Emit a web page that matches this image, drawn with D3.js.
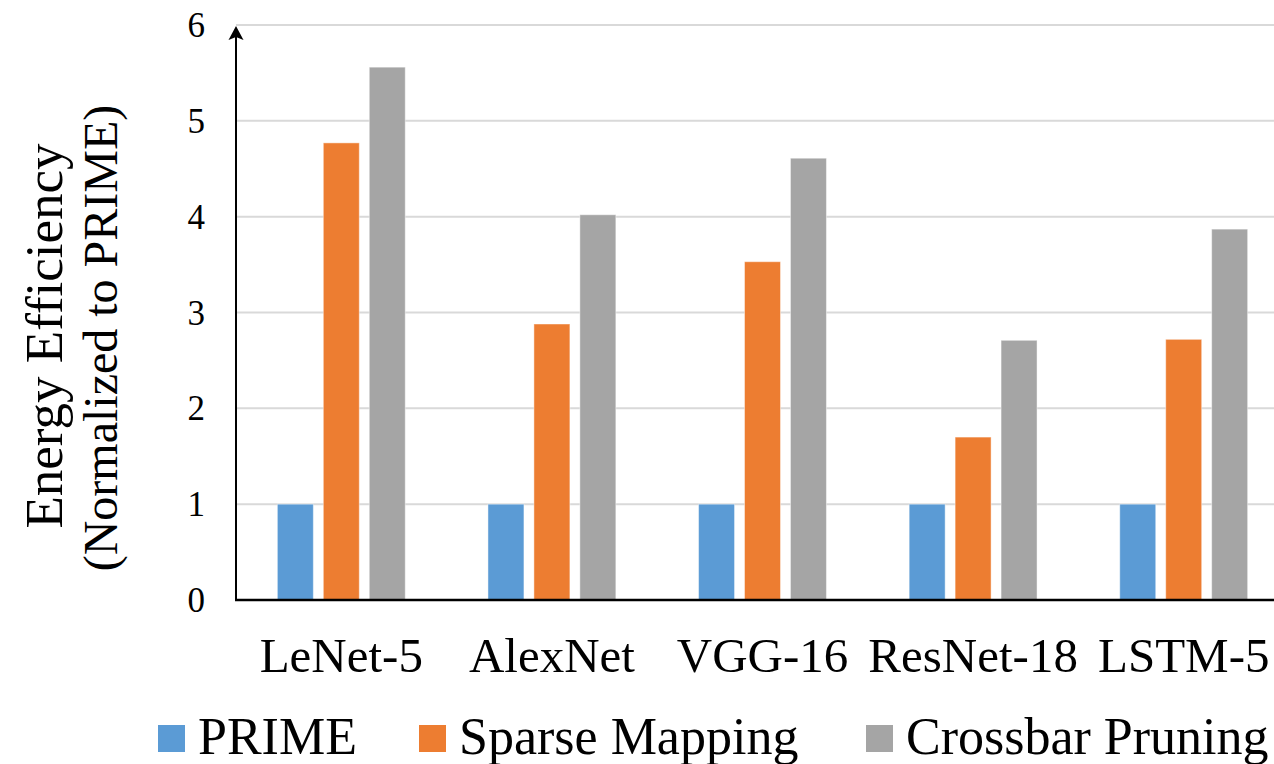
<!DOCTYPE html>
<html>
<head>
<meta charset="utf-8">
<script src="https://cdn.jsdelivr.net/npm/d3@7/dist/d3.min.js"></script>
<style>
  html, body { margin: 0; padding: 0; background: #fff; overflow: hidden; }
  svg { display: block; font-family: "Liberation Serif", "Times New Roman", serif; }
</style>
</head>
<body>
<svg id="chart" width="1274" height="764"></svg>
<script>
// Networks on the x axis
const categories = ["LeNet-5", "AlexNet", "VGG-16", "ResNet-18", "LSTM-5"];
// Series names and values (energy efficiency normalized to PRIME)
const seriesNames = ["PRIME", "Sparse Mapping", "Crossbar Pruning"];
const primeValues = [1, 1, 1, 1, 1];
const sparseValues = [4.77, 2.88, 3.53, 1.70, 2.72];
const pruningValues = [5.56, 4.02, 4.61, 2.71, 3.87];
const yTicks = [0, 1, 2, 3, 4, 5, 6];

const colors = ["#5B9BD5", "#ED7D31", "#A5A5A5"];
const seriesValues = [primeValues, sparseValues, pruningValues];
const FONT = "Liberation Serif, Times New Roman, serif";

const svg = d3.select("#chart");
const plotLeft = 236, plotBottom = 600, plotTop = 25, plotRight = 1289;

const x = d3.scaleBand().domain(categories).range([plotLeft, plotRight]);
const x1 = d3.scaleBand().domain(seriesNames).range([0, x.bandwidth()])
  .paddingInner(0.217).paddingOuter(0.9);
const y = d3.scaleLinear().domain([0, 6]).range([plotBottom, plotTop]);

// Horizontal gridlines
svg.append("g").selectAll("line").data(yTicks.filter(d => d > 0)).join("line")
  .attr("x1", plotLeft).attr("x2", 1274)
  .attr("y1", d => y(d)).attr("y2", d => y(d))
  .attr("stroke", "#d9d9d9").attr("stroke-width", 2);

// Bars
const groups = svg.append("g").selectAll("g").data(categories).join("g")
  .attr("transform", d => `translate(${x(d)},0)`);
groups.selectAll("rect")
  .data((c, i) => seriesNames.map((s, j) => ({ s, v: seriesValues[j][i], j })))
  .join("rect")
  .attr("x", d => x1(d.s))
  .attr("width", x1.bandwidth())
  .attr("y", d => y(d.v))
  .attr("height", d => y(0) - y(d.v))
  .attr("fill", d => colors[d.j])
  .attr("stroke", "#ffffff").attr("stroke-opacity", 0.45).attr("stroke-width", 1);

// Y axis line with arrowhead
svg.append("line").attr("x1", plotLeft).attr("x2", plotLeft)
  .attr("y1", plotBottom).attr("y2", plotTop + 10)
  .attr("stroke", "#000").attr("stroke-width", 2);
svg.append("path")
  .attr("d", `M${plotLeft},${plotTop + 1} L${plotLeft - 7.5},${plotTop + 15} L${plotLeft},${plotTop + 12} L${plotLeft + 7.5},${plotTop + 15} Z`)
  .attr("fill", "#000");

// X axis line
svg.append("line").attr("x1", plotLeft - 1).attr("x2", 1274).attr("y1", plotBottom).attr("y2", plotBottom)
  .attr("stroke", "#000").attr("stroke-width", 2.7);

// Y tick labels
const yAxis = d3.axisLeft(y).tickValues(yTicks).tickSize(0).tickPadding(0).tickFormat(d3.format("d"));
const yg = svg.append("g").attr("transform", `translate(${plotLeft - 31},0)`).call(yAxis);
yg.select(".domain").remove();
yg.selectAll("text").attr("font-size", 35).attr("fill", "#000")
  .attr("font-family", FONT).attr("dy", "0.33em");

// X tick labels
const xAxis = d3.axisBottom(x).tickSize(0).tickPadding(0);
const xg = svg.append("g").attr("transform", `translate(0,${plotBottom + 56})`).call(xAxis);
xg.select(".domain").remove();
xg.selectAll("text").attr("font-size", 49).attr("fill", "#000")
  .attr("font-family", FONT).attr("dy", "0.33em");

// Y axis title
svg.append("text").attr("transform", "translate(62,336) rotate(-90)")
  .attr("text-anchor", "middle").attr("font-size", 53).attr("fill", "#000")
  .attr("font-family", FONT)
  .text("Energy Efficiency");
svg.append("text").attr("transform", "translate(117,338) rotate(-90)")
  .attr("text-anchor", "middle").attr("font-size", 48).attr("fill", "#000")
  .attr("font-family", FONT)
  .text("(Normalized to PRIME)");

// Legend
const legendX = [158, 419, 866];
const legend = svg.append("g").selectAll("g").data(seriesNames).join("g")
  .attr("transform", (d, i) => `translate(${legendX[i]},725)`);
legend.append("rect").attr("width", 27).attr("height", 27).attr("fill", (d, i) => colors[i]);
legend.append("text").attr("x", 40).attr("y", 29).attr("font-size", 52).attr("fill", "#000")
  .attr("font-family", FONT)
  .text(d => d);
</script>
</body>
</html>
